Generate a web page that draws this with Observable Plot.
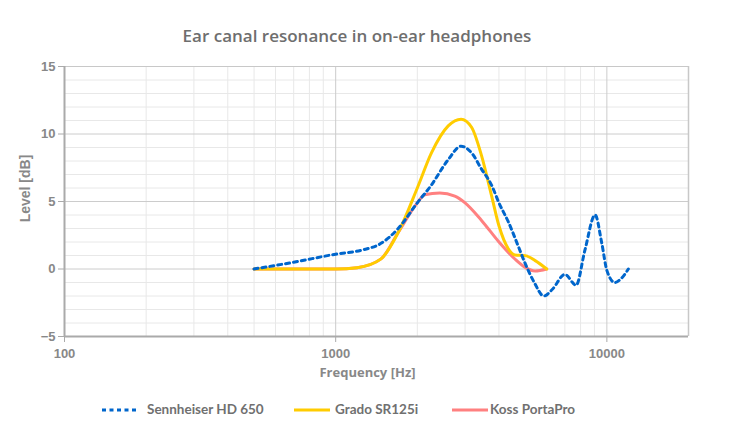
<!DOCTYPE html>
<html><head><meta charset="utf-8">
<script src="https://cdn.jsdelivr.net/npm/d3@7"></script>
<script src="https://cdn.jsdelivr.net/npm/@observablehq/plot@0.6"></script>
<style>
body{margin:0;background:#fff;width:730px;height:440px;position:relative;overflow:hidden}
#title{position:absolute;left:0;top:24px;width:714px;text-align:center;font-family:"Open Sans";font-weight:600;font-size:17px;color:#6e6e6e}
#chart{position:absolute;left:0;top:56px}
.lg{position:absolute;top:401px;font-family:Lato;font-weight:700;font-size:13.5px;color:#707070;white-space:nowrap}
</style></head>
<body>
<div id="title">Ear canal resonance in on-ear headphones</div>
<div id="chart"></div>
<div id="legend"></div>
<script>
const seriesNames = ["Sennheiser HD 650", "Grado SR125i", "Koss PortaPro"];
const seriesColors = ["#0066cc", "#ffcc00", "#ff8080"];

const sennFreq = [500, 700, 1000, 1250, 1470, 1700, 2000, 2250, 2600, 2900, 3170, 3450, 3760, 4000, 4330, 4710, 5000, 5400, 5850, 6300, 7000, 7700, 8300, 9050, 9580, 10000, 10700, 11300, 12000];
const sennDb   = [0, 0.5, 1.1, 1.4, 1.9, 3.0, 4.9, 6.2, 8.1, 9.1, 8.6, 7.4, 6.2, 4.9, 3.5, 1.7, 0.4, -1.0, -2.0, -1.5, -0.4, -1.2, 1.4, 4.0, 1.9, -0.1, -1.0, -0.7, 0];

const gradoFreq = [500, 800, 1000, 1200, 1470, 1700, 2000, 2255, 2600, 2900, 3170, 3450, 3760, 4000, 4330, 4580, 5000, 5440, 6000];
const gradoDb   = [0, 0, 0, 0.1, 0.75, 2.7, 6.0, 8.6, 10.6, 11.1, 10.5, 8.4, 5.4, 3.2, 1.5, 1.04, 0.99, 0.62, 0];

const kossFreq = [500, 1000, 1200, 1470, 1700, 2000, 2130, 2420, 2750, 3000, 3450, 4000, 4580, 5000, 5440, 6000];
const kossDb   = [0, 0, 0.1, 0.75, 2.7, 4.9, 5.5, 5.63, 5.4, 4.9, 3.6, 2.0, 0.74, 0.12, -0.15, 0];

const xTicks = [100, 1000, 10000];
const yTicks = [-5, 0, 5, 10, 15];
const xLabel = "Frequency [Hz]";
const yLabel = "Level [dB]";

const toRows = (fs, vs) => fs.map((f, i) => ({f, v: vs[i]}));
const senn = toRows(sennFreq, sennDb);
const grado = toRows(gradoFreq, gradoDb);
const koss = toRows(kossFreq, kossDb);

const minorX = [];
for (const d of [100, 1000, 10000]) for (let k = 2; k <= 9; k++) if (d * k <= 20000) minorX.push(d * k);
const minorY = d3.range(-5, 16, 1).filter(v => v % 5 !== 0);

const chart = Plot.plot({
  width: 730, height: 330,
  marginLeft: 64, marginRight: 42, marginTop: 10, marginBottom: 50,
  style: {fontFamily: "Liberation Sans", fontSize: "13px", fontWeight: "bold", color: "#888", background: "#fff"},
  x: {type: "log", domain: [100, 20000]},
  y: {domain: [-5, 15]},
  marks: [
    Plot.ruleY(minorY, {stroke: "#e8e8e8", strokeWidth: 1}),
    Plot.ruleX(minorX, {stroke: "#e8e8e8", strokeWidth: 1}),
    Plot.ruleY([0, 5, 10], {stroke: "#cccccc", strokeWidth: 1}),
    Plot.ruleX([1000, 10000], {stroke: "#cccccc", strokeWidth: 1}),
    Plot.ruleY([15], {stroke: "#c8c8c8", strokeWidth: 1}),
    Plot.ruleX([20000], {stroke: "#c8c8c8", strokeWidth: 1.5}),
    Plot.ruleX([100], {stroke: "#aaaaaa", strokeWidth: 2}),
    Plot.ruleY([-5], {stroke: "#aaaaaa", strokeWidth: 2}),
    Plot.axisX(xTicks, {tickFormat: d => String(d), tickSize: 6, tickPadding: 6, stroke: "#aaa", fill: "#888", label: null}),
    Plot.axisY(yTicks, {tickSize: 6, tickPadding: 3, stroke: "#aaa", fill: "#888", label: null}),
    Plot.text([xLabel], {frameAnchor: "bottom", dy: 40, dx: -9, textAnchor: "middle", fill: "#888", fontFamily: "Open Sans", fontWeight: 700, fontSize: 13}),
    Plot.text([yLabel], {frameAnchor: "left", dx: -39, dy: -13, textAnchor: "middle", rotate: -90, fill: "#888", fontFamily: "Liberation Sans", fontWeight: "bold", fontSize: 14}),
    Plot.line(koss, {x: "f", y: "v", stroke: seriesColors[2], strokeWidth: 3, curve: "monotone-x"}),
    Plot.line(grado, {x: "f", y: "v", stroke: seriesColors[1], strokeWidth: 3, curve: "monotone-x"}),
    Plot.line(senn, {x: "f", y: "v", stroke: seriesColors[0], strokeWidth: 3, strokeDasharray: "4,4", curve: "monotone-x"})
  ]
});
document.getElementById("chart").appendChild(chart);

// legend
const lg = document.getElementById("legend");
const swX = [102, 294, 452];
const txX = [147, 335, 490];
seriesNames.forEach((name, i) => {
  const s = document.createElementNS("http://www.w3.org/2000/svg", "svg");
  s.setAttribute("width", 36); s.setAttribute("height", 6);
  s.style.position = "absolute"; s.style.left = swX[i] + "px"; s.style.top = "407px";
  const l = document.createElementNS("http://www.w3.org/2000/svg", "line");
  l.setAttribute("x1", 0); l.setAttribute("x2", 36); l.setAttribute("y1", 3); l.setAttribute("y2", 3);
  l.setAttribute("stroke", seriesColors[i]); l.setAttribute("stroke-width", 3);
  if (i === 0) l.setAttribute("stroke-dasharray", "4,3.5");
  s.appendChild(l); lg.appendChild(s);
  const t = document.createElement("div");
  t.className = "lg"; t.style.left = txX[i] + "px"; t.textContent = name;
  lg.appendChild(t);
});
</script>
</body></html>
